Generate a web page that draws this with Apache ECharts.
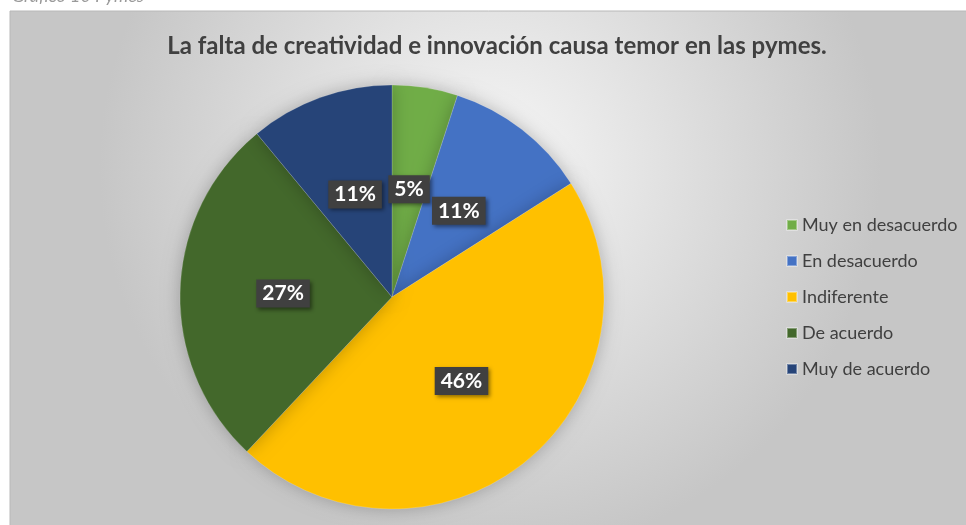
<!DOCTYPE html>
<html>
<head>
<meta charset="utf-8">
<script src="https://cdn.jsdelivr.net/npm/echarts@6/dist/echarts.min.js"></script>
<style>
  html, body { margin: 0; padding: 0; background: #fff; }
  #chart { width: 966px; height: 525px; }
</style>
</head>
<body>
<div id="chart"></div>
<script>
// categorias y porcentajes
var categories = ['Muy en desacuerdo', 'En desacuerdo', 'Indiferente', 'De acuerdo', 'Muy de acuerdo']
var percents = [5, 11, 46, 27, 11]
var colors = ['#70AD47', '#4472C4', '#FFC000', '#43682B', '#264478']
var titleText = 'La falta de creatividad e innovación causa temor en las pymes.'

var chart = echarts.init(document.getElementById('chart'))

var pieData = categories.map(function (name, i) {
  return { name: name, value: percents[i], itemStyle: { color: colors[i] } }
})

var option = {
  animation: false,
  backgroundColor: '#ffffff',
  graphic: [
    {
      type: 'rect',
      z: -10,
      shape: { x: 10, y: 11, width: 960, height: 520 },
      style: {
        fill: new echarts.graphic.RadialGradient(0.5, 0.3, 0.75, [
          { offset: 0, color: '#f7f7f7' },
          { offset: 1, color: '#c6c6c6' }
        ]),
        stroke: '#b8b8b8',
        lineWidth: 1
      }
    },
    {
      type: 'text',
      left: 12,
      top: -13,
      style: {
        text: 'Gráfico 10 Pymes',
        font: 'italic 18px Lato',
        fill: '#9a9a9a'
      }
    }
  ],
  title: {
    text: titleText,
    left: 492,
    top: 29,
    textAlign: 'center',
    textStyle: {
      fontFamily: 'Lato',
      fontWeight: 'bold',
      fontSize: 24,
      color: '#404040'
    }
  },
  legend: {
    orient: 'vertical',
    left: 786,
    top: 216,
    padding: 0,
    icon: 'rect',
    itemWidth: 10,
    itemHeight: 10,
    itemGap: 18,
    textStyle: {
      fontFamily: 'Lato',
      fontSize: 18,
      color: '#404040'
    },
    data: categories
  },
  series: [{
    type: 'pie',
    center: [392, 297],
    radius: 212,
    startAngle: 90,
    clockwise: true,
    itemStyle: {
      borderColor: 'rgba(255,255,255,0.35)',
      borderWidth: 0.5,
      shadowBlur: 18,
      shadowColor: 'rgba(0,0,0,0.25)'
    },
    label: {
      show: true,
      position: 'inside',
      formatter: '{c}%',
      fontFamily: 'Lato',
      fontWeight: 'bold',
      fontSize: 21,
      color: '#ffffff',
      backgroundColor: '#404040',
      padding: [4, 6, 3, 6],
      shadowBlur: 4,
      shadowOffsetX: 2,
      shadowOffsetY: 2,
      shadowColor: 'rgba(0,0,0,0.45)'
    },
    labelLayout: { hideOverlap: false },
    labelLine: { show: false },
    emphasis: { disabled: true },
    data: pieData
  }]
}

chart.setOption(option)
</script>
</body>
</html>
